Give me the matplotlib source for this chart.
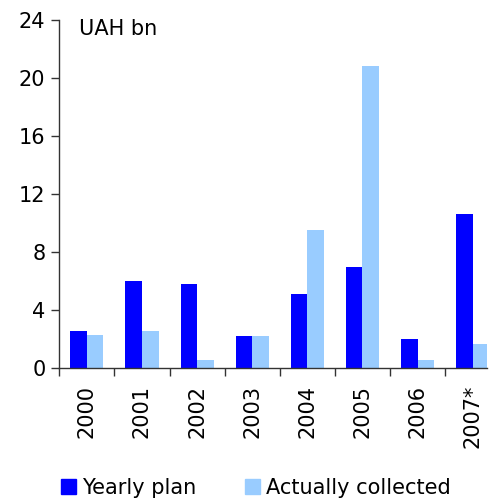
import matplotlib
matplotlib.use("Agg")
import matplotlib.pyplot as plt
import numpy as np
from matplotlib.patches import Patch

categories = ["2000", "2001", "2002", "2003", "2004", "2005", "2006", "2007*"]
yearly_plan = [2.6, 6.0, 5.8, 2.2, 5.1, 7.0, 2.0, 10.6]
actually_collected = [2.3, 2.6, 0.6, 2.2, 9.5, 20.8, 0.6, 1.7]
y_ticks = [0, 4, 8, 12, 16, 20, 24]

dark = "#0000FF"
light = "#99CCFF"

W, H = 492, 501
fig = plt.figure(figsize=(W / 100, H / 100), dpi=100)
ax = fig.add_axes([59.3 / W, 1 - 368.3 / H, (487 - 59.3) / W, (368.3 - 20) / H])

x = np.arange(len(categories))
bw = 0.3
ax.bar(x - bw / 2, yearly_plan, bw, color=dark, label="Yearly plan")
ax.bar(x + bw / 2, actually_collected, bw, color=light, label="Actually collected")

ax.set_xlim(-0.5, 7.26)
ax.set_ylim(0, 24)
ax.set_yticks(y_ticks)
ax.set_yticklabels([str(v) for v in y_ticks], fontsize=15)
ax.set_xticks(x)
ax.set_xticklabels(categories, rotation=90, fontsize=15)
ax.tick_params(axis="x", which="major", length=0, pad=12)
ax.set_xticks(np.arange(-0.5, 7.0, 1.0), minor=True)
ax.tick_params(axis="x", which="minor", length=6, width=1, color="#333333", direction="out")
ax.tick_params(axis="y", length=6, width=1, color="#333333", direction="out", pad=4)

for s in ["top", "right"]:
    ax.spines[s].set_visible(False)
for s in ["left", "bottom"]:
    ax.spines[s].set_color("#333333")
    ax.spines[s].set_linewidth(1)

fig.text(79 / W, 1 - 29 / H, "UAH bn", fontsize=15, va="center", ha="left")

handles = [Patch(color=dark, label="Yearly plan"), Patch(color=light, label="Actually collected")]
fig.legend(handles=handles, loc="center left", bbox_to_anchor=(61 / W, 1 - 488 / H),
           ncol=2, frameon=False, fontsize=15, handlelength=0.7, handleheight=0.7,
           handletextpad=0.3, columnspacing=2.35, borderpad=0, borderaxespad=0)

fig.savefig("out.png", dpi=100)
